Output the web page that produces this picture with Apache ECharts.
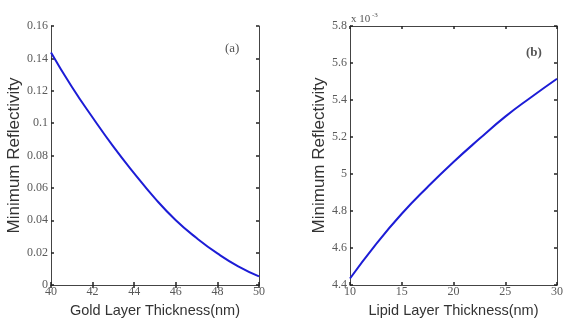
<!DOCTYPE html>
<html>
<head>
<meta charset="utf-8">
<script src="https://cdn.jsdelivr.net/npm/echarts@6/dist/echarts.min.js"></script>
<style>
  html, body { margin: 0; padding: 0; background: #fff; }
  #chart { width: 566px; height: 323px; }
</style>
</head>
<body>
<div id="chart"></div>
<script>
// panel (a): gold layer thickness vs minimum reflectivity
const goldThickness = [40, 41, 42, 43, 44, 45, 46, 47, 48, 49, 50]
const goldReflectivity = [0.1437, 0.1225, 0.1035, 0.0855, 0.0690, 0.0535, 0.0400, 0.0290, 0.0195, 0.0115, 0.0053]

// panel (b): lipid layer thickness vs minimum reflectivity (x 10^-3)
const lipidThickness = [10, 12.5, 15, 17.5, 20, 22.5, 25, 27.5, 30]
const lipidReflectivity = [4.435, 4.62, 4.785, 4.93, 5.065, 5.19, 5.31, 5.415, 5.515]

const panelLabels = ['(a)', '(b)']
const xNames = ['Gold Layer Thickness(nm)', 'Lipid Layer Thickness(nm)']
const yName = 'Minimum Reflectivity'

const tickFont = { fontFamily: 'Liberation Serif', fontSize: 12, color: '#5a5a5a' }
const xNameFont = { fontFamily: 'Liberation Sans', fontSize: 14.5, color: '#333' }
const yNameFont = { fontFamily: 'Liberation Sans', fontSize: 17, color: '#333' }
const boxLine = { lineStyle: { color: '#444', width: 1 } }
const tick = { inside: true, length: 3, lineStyle: { color: '#222', width: 1.5 } }

function bottomAxis(grid, min, max, interval, name) {
  return {
    type: 'value', gridIndex: grid, position: 'bottom',
    min, max, interval,
    name, nameLocation: 'middle', nameGap: 18, nameTextStyle: xNameFont,
    axisLine: boxLine, axisTick: tick,
    axisLabel: { ...tickFont, margin: 1 },
    splitLine: { show: false },
  }
}
function topAxis(grid, min, max, interval) {
  return {
    type: 'value', gridIndex: grid, position: 'top',
    min, max, interval,
    axisLine: boxLine, axisTick: tick,
    axisLabel: { show: false },
    splitLine: { show: false },
  }
}
function leftAxis(grid, min, max, interval, gap) {
  return {
    type: 'value', gridIndex: grid, position: 'left',
    min, max, interval,
    name: yName, nameLocation: 'middle', nameGap: gap, nameTextStyle: yNameFont,
    axisLine: boxLine, axisTick: tick,
    axisLabel: { ...tickFont, margin: 3 },
    splitLine: { show: false },
  }
}
function rightAxis(grid, min, max, interval) {
  return {
    type: 'value', gridIndex: grid, position: 'right',
    min, max, interval,
    axisLine: boxLine, axisTick: tick,
    axisLabel: { show: false },
    splitLine: { show: false },
  }
}

const chart = echarts.init(document.getElementById('chart'), null, { renderer: 'canvas' })

const option = {
  backgroundColor: '#fff',
  animation: false,
  grid: [
    { left: 51, top: 26, width: 208, height: 261 },
    { left: 350, top: 26, width: 211, height: 261 },
  ],
  xAxis: [
    bottomAxis(0, 40, 50, 2, xNames[0]),
    topAxis(0, 40, 50, 2),
    bottomAxis(1, 10, 30, 5, xNames[1]),
    topAxis(1, 10, 30, 5),
  ],
  yAxis: [
    leftAxis(0, 0, 0.16, 0.02, 25),
    rightAxis(0, 0, 0.16, 0.02),
    leftAxis(1, 4.4, 5.8, 0.2, 21),
    rightAxis(1, 4.4, 5.8, 0.2),
  ],
  graphic: [
    { type: 'text', left: 225, top: 42, style: { text: panelLabels[0], font: '13px "Liberation Serif"', fill: '#555' } },
    { type: 'text', left: 526, top: 46, style: { text: panelLabels[1], font: 'bold 13px "Liberation Serif"', fill: '#555' } },
    {
      type: 'text', left: 351, top: 12,
      style: {
        text: '{b|x 10}{s| -3}',
        rich: {
          b: { font: '11px "Liberation Serif"', fill: '#555' },
          s: { font: '7px "Liberation Serif"', fill: '#555', verticalAlign: 'top', padding: [0, 0, 8, 0] },
        },
      },
    },
  ],
  series: [
    {
      type: 'line', xAxisIndex: 0, yAxisIndex: 0,
      data: goldThickness.map((x, i) => [x, goldReflectivity[i]]),
      smooth: true, showSymbol: false,
      lineStyle: { color: '#1c1cd6', width: 2 },
    },
    {
      type: 'line', xAxisIndex: 2, yAxisIndex: 2,
      data: lipidThickness.map((x, i) => [x, lipidReflectivity[i]]),
      smooth: true, showSymbol: false,
      lineStyle: { color: '#1c1cd6', width: 2 },
    },
  ],
}

chart.setOption(option)
</script>
</body>
</html>
